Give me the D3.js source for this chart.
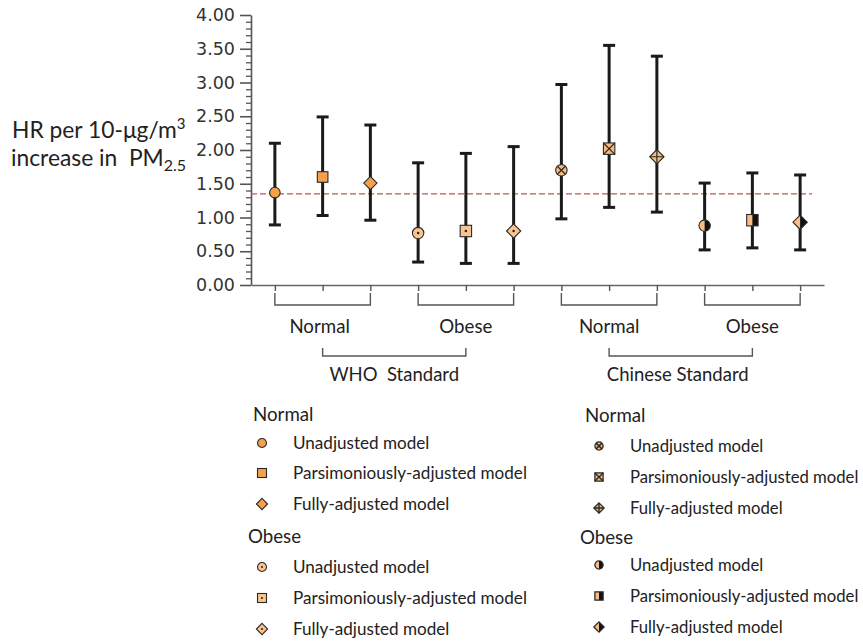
<!DOCTYPE html>
<html><head><meta charset="utf-8">
<script src="https://cdn.jsdelivr.net/npm/d3@7"></script>
<style>body{margin:0;background:#fff} svg{display:block} text{white-space:pre}</style>
</head><body>
<svg id="c" width="863" height="641"></svg>
<script>
// ---------- DATA ----------
const categories = ["WHO-Normal-U","WHO-Normal-P","WHO-Normal-F",
                    "WHO-Obese-U","WHO-Obese-P","WHO-Obese-F",
                    "CN-Normal-U","CN-Normal-P","CN-Normal-F",
                    "CN-Obese-U","CN-Obese-P","CN-Obese-F"];
const hr    = [1.37, 1.60, 1.51, 0.77, 0.80, 0.80, 1.70, 2.02, 1.90, 0.88, 0.96, 0.93];
const lower = [0.89, 1.03, 0.96, 0.34, 0.32, 0.32, 0.98, 1.15, 1.08, 0.52, 0.55, 0.52];
const upper = [2.10, 2.49, 2.37, 1.81, 1.95, 2.05, 2.97, 3.55, 3.39, 1.51, 1.66, 1.63];
const refValue = 1.35;
const modelNames = ["Unadjusted model","Parsimoniously-adjusted model","Fully-adjusted model"];
const subgroupNames = ["Normal","Obese","Normal","Obese"];
const standardNames = ["WHO  Standard","Chinese Standard"];
const yTicks = [0,0.5,1,1.5,2,2.5,3,3.5,4];
const legendHeaders = ["Normal","Obese"];

// ---------- STYLE ----------
const LABEL_FONT = "Lato, 'Open Sans', sans-serif";
const fills = ["#F5A04A","#FAC48E","#F7BB7D","#F8BE84"];
const shapes = ["circle","square","diamond"];
const decos = ["plain","dot","cross","half"];

const svg = d3.select("#c");
const defs = svg.append("defs");
defs.append("clipPath").attr("id","rightHalf")
  .append("rect").attr("x",0).attr("y",-30).attr("width",30).attr("height",60);

const y = d3.scaleLinear().domain([0,4]).range([285,15]);
const x = d3.scalePoint().domain(categories).range([251,824]).padding(0.5);

// minor ticks
const minor = d3.range(0,41).map(d=>d/10).filter(d=>Math.round(d*10)%5!==0);
svg.append("g").attr("transform","translate(252,0)")
  .call(d3.axisLeft(y).tickValues(minor).tickSize(6).tickFormat(""))
  .call(g=>g.select(".domain").remove())
  .selectAll("line").attr("stroke","#555").attr("stroke-width",1.3);

// major y axis
const yAxis = svg.append("g").attr("transform","translate(251,0)")
  .call(d3.axisLeft(y).tickValues(yTicks).tickFormat(d3.format(".2f")).tickSize(11).tickSizeOuter(0).tickPadding(5));
yAxis.select(".domain").attr("stroke","#555").attr("stroke-width",1.6);
yAxis.selectAll(".tick line").attr("stroke","#555").attr("stroke-width",1.6);
yAxis.selectAll("text").attr("font-family","'DejaVu Sans', Verdana, sans-serif").attr("font-size",17.5).attr("fill","#333");

// x axis
const xAxis = svg.append("g").attr("transform","translate(0,285)")
  .call(d3.axisBottom(x).tickFormat("").tickSize(6).tickSizeOuter(0));
xAxis.select(".domain").attr("stroke","#666").attr("stroke-width",1.6);
xAxis.selectAll(".tick line").attr("stroke","#555").attr("stroke-width",1.4);

// subgroup brackets
const br = svg.append("g").attr("fill","none").attr("stroke","#555").attr("stroke-width",1.4);
for (let k=0;k<4;k++){
  const ids = categories.slice(3*k,3*k+3);
  br.append("path").attr("d",`M${x(ids[0])},293V305H${x(ids[2])}V293`);
  svg.append("text").attr("x",x(ids[1]) - (k===0?3:0)).attr("y",333).attr("text-anchor","middle")
    .attr("font-family",LABEL_FONT).attr("font-size",18.7).attr("fill","#222").text(subgroupNames[k]);
}
for (let j=0;j<2;j++){
  const xa = x(categories[6*j+1]), xb = x(categories[6*j+4]);
  br.append("path").attr("d",`M${xa},348V356H${xb}V348`);
  svg.append("text").attr("x",(xa+xb)/2 - (j===1?3:0)).attr("y",381).attr("text-anchor","middle")
    .attr("font-family",LABEL_FONT).attr("font-size",18.5).attr("fill","#222").text(standardNames[j]);
}

// reference line
svg.append("line").attr("x1",251).attr("x2",812).attr("y1",y(refValue)).attr("y2",y(refValue))
  .attr("stroke","#B85A4C").attr("stroke-width",1.3).attr("stroke-dasharray","6,3");

// error bars
const eb = svg.append("g").attr("stroke","#1a1a1a").attr("stroke-width",3).attr("fill","none");
categories.forEach((c,i)=>{
  const cx = x(c);
  eb.append("line").attr("x1",cx).attr("x2",cx).attr("y1",y(lower[i])).attr("y2",y(upper[i]));
  eb.append("line").attr("x1",cx-6).attr("x2",cx+6).attr("y1",y(lower[i])).attr("y2",y(lower[i]));
  eb.append("line").attr("x1",cx-6).attr("x2",cx+6).attr("y1",y(upper[i])).attr("y2",y(upper[i]));
});

function drawMarker(parent, shape, deco, fill, s, sw){
  const g = parent.append("g");
  const add = (sel)=>{
    let el;
    if(shape==="circle") el = sel.append("circle").attr("r",s);
    else if(shape==="square") el = sel.append("rect").attr("x",-s).attr("y",-s).attr("width",2*s).attr("height",2*s);
    else { const d=s*1.25; el = sel.append("path").attr("d",`M0,${-d}L${d},0L0,${d}L${-d},0Z`); }
    return el;
  };
  add(g).attr("fill",fill).attr("stroke","none");
  if(deco==="half"){
    add(g.append("g").attr("clip-path","url(#rightHalf)")).attr("fill","#111");
  }
  add(g).attr("fill","none").attr("stroke","#2a2a2a").attr("stroke-width",sw);
  if(deco==="dot"){
    g.append("circle").attr("r",Math.max(1,s*0.22)).attr("fill","#222");
  } else if(deco==="cross"){
    const lg = g.append("g").attr("stroke","#2a2a2a").attr("stroke-width",sw*1.1);
    if(shape==="circle"){ const a=s*0.7; lg.append("path").attr("d",`M${-a},${-a}L${a},${a}M${-a},${a}L${a},${-a}`); }
    else if(shape==="square"){ lg.append("path").attr("d",`M${-s},${-s}L${s},${s}M${-s},${s}L${s},${-s}`); }
    else { const d=s*1.25; lg.append("path").attr("d",`M0,${-d}V${d}M${-d},0H${d}`); }
  }
  return g;
}

// markers
categories.forEach((c,i)=>{
  const cohort = Math.floor(i/3), model = i%3;
  drawMarker(svg, shapes[model], decos[cohort], fills[cohort], cohort===0?5.3:5.7, 1.1)
    .attr("transform",`translate(${x(c)},${y(hr[i])})`);
});

// y title (two separate lines)
const t1 = svg.append("text").attr("font-family",LABEL_FONT).attr("font-size",22.8).attr("fill","#222");
t1.append("tspan").attr("x",12).attr("y",137.5).text("HR per 10-\u03BCg/m");
t1.append("tspan").attr("dy",-9).attr("font-size",15).text("3");
const t2 = svg.append("text").attr("font-family",LABEL_FONT).attr("font-size",22.8).attr("fill","#222");
t2.append("tspan").attr("x",11).attr("y",166).text("increase in  PM");
t2.append("tspan").attr("dy",5).attr("font-size",16).text("2.5");

// legends
const legends = [
  {x:253, mx:262, tx:293, s:4.5, sw:1.1, fs:17.1, headerY:[421,543], rowY:[[443,473,504],[567,598,629]], cohorts:[0,1]},
  {x:585, mx:599, tx:630, s:4.1, sw:1.3, fs:16.7, headerY:[422,544], rowY:[[446,477,508],[565,596,627]], cohorts:[2,3]}
];
legends.forEach(L=>{
  legendHeaders.forEach((h,hi)=>{
    svg.append("text").attr("x",L.x - (hi===1?5:0)).attr("y",L.headerY[hi])
      .attr("font-family",LABEL_FONT).attr("font-size",18.7).attr("fill","#222").text(h);
    modelNames.forEach((m,mi)=>{
      const yy = L.rowY[hi][mi];
      const coh = L.cohorts[hi];
      drawMarker(svg, shapes[mi], decos[coh], fills[coh], L.s, L.sw).attr("transform",`translate(${L.mx},${yy})`);
      svg.append("text").attr("x",L.tx).attr("y",yy+5.5)
        .attr("font-family",LABEL_FONT).attr("font-size",L.fs).attr("fill","#222").text(m);
    });
  });
});
</script>
</body></html>
